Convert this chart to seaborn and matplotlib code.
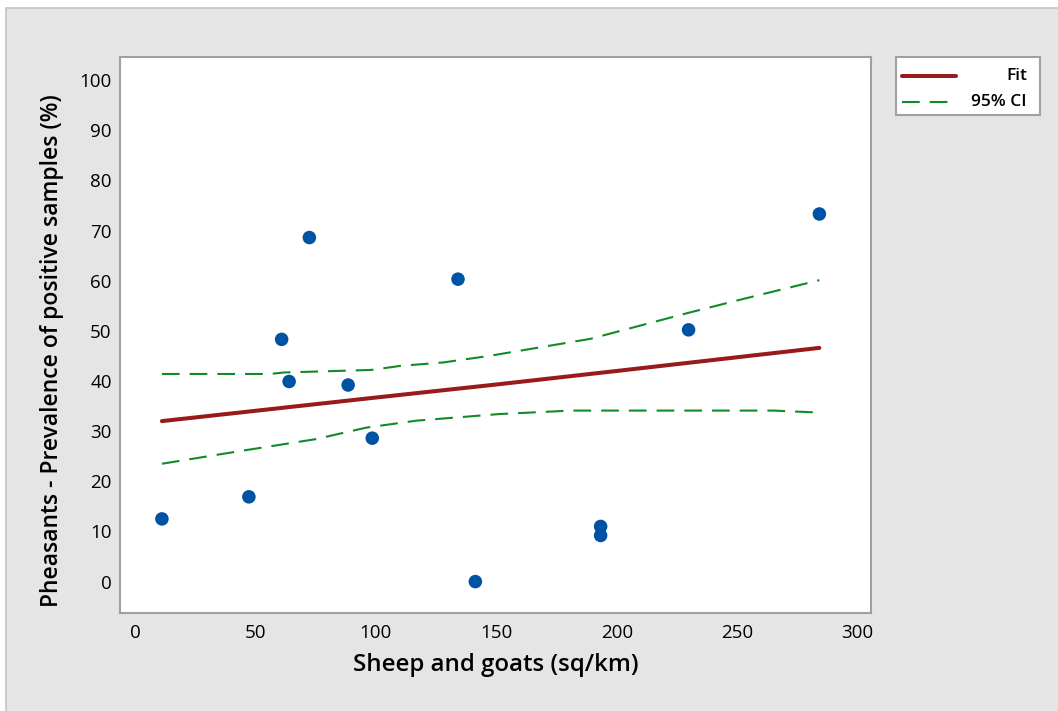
import matplotlib.pyplot as plt
import matplotlib.patches as mpatches
from matplotlib.lines import Line2D
import seaborn as sns
import pandas as pd

# observed points
sheep_goats = [11.2, 47.3, 60.9, 64.0, 72.4, 88.5, 98.5, 134.1, 141.3, 193.3, 193.3, 229.8, 284.1]
prevalence = [12.5, 16.9, 48.3, 39.9, 68.6, 39.2, 28.6, 60.3, 0.0, 11.0, 9.2, 50.2, 73.3]

# fitted line
fit_x = [11.2, 100.0, 150.0, 200.0, 284.1]
fit_y = [32.0, 36.7, 39.3, 42.0, 46.6]

# 95% confidence band
ci_up_x = [11.2, 56.0, 62.0, 98.0, 110.0, 128.0, 147.0, 189.0, 229.0, 252.0, 284.1]
ci_up_y = [41.4, 41.4, 41.7, 42.2, 43.0, 43.7, 45.0, 48.4, 53.5, 56.3, 60.1]
ci_lo_x = [11.2, 42.0, 75.0, 96.0, 117.0, 151.0, 181.0, 265.0, 284.1]
ci_lo_y = [23.5, 25.9, 28.4, 30.7, 32.1, 33.4, 34.1, 34.1, 33.7]

x_ticks = [0, 50, 100, 150, 200, 250, 300]
y_ticks = [0, 10, 20, 30, 40, 50, 60, 70, 80, 90, 100]

FIT_COLOR = "#981A1A"
CI_COLOR = "#118A2A"
DOT_COLOR = "#0052A5"
FRAME = "#A0A0A0"
DASH = (0, (8.5, 4.8))

sns.set_style("white")
plt.rcParams["font.family"] = ["Open Sans", "DejaVu Sans"]
plt.rcParams["text.color"] = "black"
plt.rcParams["axes.labelcolor"] = "black"

fig = plt.figure(figsize=(10.58, 7.11), dpi=100, facecolor="white")
fig.patches.append(mpatches.Rectangle(
    (6 / 1058, -0.05), 1.2, (711 - 8) / 711 + 0.05, transform=fig.transFigure,
    facecolor="#E5E5E5", edgecolor="#C4C4C4", linewidth=1.2, zorder=-10))

ax = fig.add_axes([120 / 1058, 1 - 612.7 / 711, 750.7 / 1058, 555.7 / 711])
ax.set_facecolor("white")

pts = pd.DataFrame({"x": sheep_goats, "y": prevalence})
fit = pd.DataFrame({"x": fit_x, "y": fit_y})
up = pd.DataFrame({"x": ci_up_x, "y": ci_up_y})
lo = pd.DataFrame({"x": ci_lo_x, "y": ci_lo_y})

sns.lineplot(data=up, x="x", y="y", ax=ax, color=CI_COLOR, linewidth=1.5,
             linestyle=DASH, sort=True, estimator=None, zorder=2)
sns.lineplot(data=lo, x="x", y="y", ax=ax, color=CI_COLOR, linewidth=1.5,
             linestyle=DASH, sort=True, estimator=None, zorder=2)
sns.lineplot(data=fit, x="x", y="y", ax=ax, color=FIT_COLOR, linewidth=2.9,
             estimator=None, zorder=3)
sns.scatterplot(data=pts, x="x", y="y", ax=ax, color=DOT_COLOR, s=95,
                edgecolor="none", zorder=4)

ax.set_xlim(-6.2, 305.4)
ax.set_ylim(-6.2, 104.6)
ax.set_xticks(x_ticks)
ax.set_yticks(y_ticks)
ax.tick_params(axis="both", direction="out", length=4, width=1, color=FRAME,
               labelsize=13.5, labelcolor="black")
ax.tick_params(axis="y", pad=2)
ax.tick_params(axis="x", pad=4)
for sp in ax.spines.values():
    sp.set_visible(True)
    sp.set_color(FRAME)
    sp.set_linewidth(1.5)

ax.set_xlabel("Sheep and goats (sq/km)", fontsize=17.3, fontweight="semibold", labelpad=8)
ax.set_ylabel("Pheasants - Prevalence of positive samples (%)", fontsize=16.5,
              fontweight="semibold")
ax.yaxis.set_label_coords(-0.074, 0.472)

# Minitab-style legend box on the right, labels right-aligned
W, H = 1058, 711
fig.patches.append(mpatches.Rectangle(
    (896 / W, 1 - 115 / H), 144 / W, 58 / H, transform=fig.transFigure,
    facecolor="white", edgecolor=FRAME, linewidth=1.5, zorder=5))
fig.lines.append(Line2D([902 / W, 956 / W], [1 - 75.5 / H] * 2, transform=fig.transFigure,
                        color=FIT_COLOR, linewidth=2.9, zorder=6))
fig.lines.append(Line2D([902 / W, 956 / W], [1 - 102 / H] * 2, transform=fig.transFigure,
                        color=CI_COLOR, linewidth=1.5, linestyle=DASH, zorder=6))
fig.text(1027 / W, 1 - 75.5 / H, "Fit", ha="right", va="center", fontsize=12.5,
         fontweight="semibold", zorder=7)
fig.text(1027 / W, 1 - 102 / H, "95% CI", ha="right", va="center", fontsize=12.5,
         fontweight="semibold", zorder=7)

fig.savefig("out.png", dpi=100, facecolor=fig.get_facecolor())
plt.close(fig)
